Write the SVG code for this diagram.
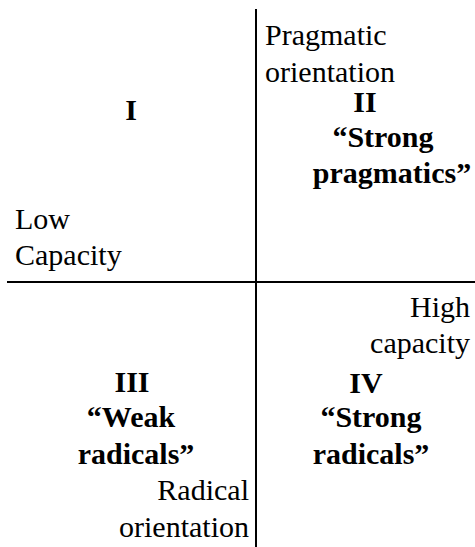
<svg xmlns="http://www.w3.org/2000/svg" width="475" height="547" viewBox="0 0 475 547" font-family="Liberation Serif, Times New Roman, serif" font-size="30">
<style>
.b{font-weight:bold;text-anchor:middle}
.e{text-anchor:end}
.ax{stroke:#000;stroke-width:2;fill:none}
</style>
<rect width="475" height="547" fill="#fff"/>
<g id="axes">
<line class="ax" x1="256" y1="9" x2="256" y2="547"/>
<line class="ax" x1="7" y1="282" x2="475" y2="282"/>
</g>
<g id="q1">
<text class="b" x="131" y="120">I</text>
<text x="15" y="229">Low</text>
<text x="15" y="265">Capacity</text>
</g>
<g id="q2">
<text x="265" y="45">Pragmatic</text>
<text x="265" y="82">orientation</text>
<text class="b" x="365" y="112">II</text>
<text class="b" x="383" y="147">“Strong</text>
<text class="b" x="392" y="183">pragmatics”</text>
</g>
<g id="q3">
<text class="b" x="132" y="392">III</text>
<text class="b" x="131" y="427">“Weak</text>
<text class="b" x="136" y="464">radicals”</text>
<text class="e" x="249" y="500">Radical</text>
<text class="e" x="249" y="537">orientation</text>
</g>
<g id="q4">
<text class="e" x="470" y="317">High</text>
<text class="e" x="470" y="353">capacity</text>
<text class="b" x="366" y="393">IV</text>
<text class="b" x="371" y="427">“Strong</text>
<text class="b" x="371" y="464">radicals”</text>
</g>
</svg>
